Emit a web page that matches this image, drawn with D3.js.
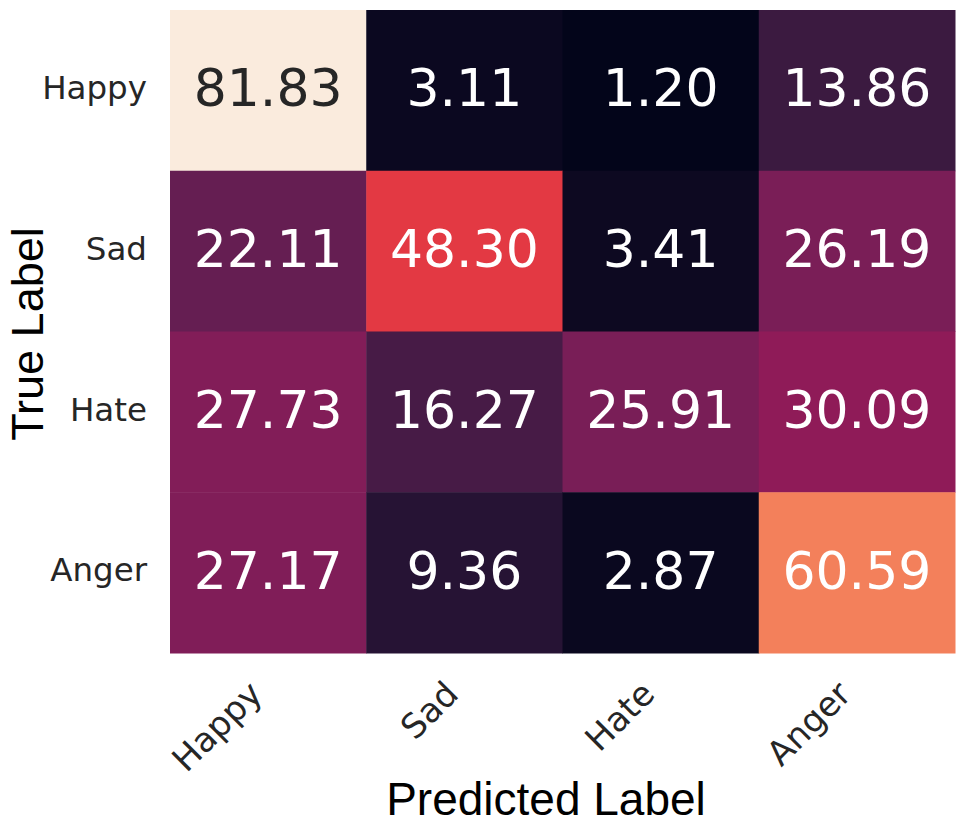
<!DOCTYPE html>
<html>
<head>
<meta charset="utf-8">
<script src="https://cdn.jsdelivr.net/npm/d3@7"></script>
<style>
  body { margin: 0; background: #fff; }
  svg { display: block; }
</style>
</head>
<body>
<svg id="chart" width="970" height="828"></svg>
<script>
// confusion matrix, rows = true label, cols = predicted label
var trueLabels = ["Happy", "Sad", "Hate", "Anger"];
var predLabels = ["Happy", "Sad", "Hate", "Anger"];
var happyRow = [81.83, 3.11, 1.20, 13.86];
var sadRow   = [22.11, 48.30, 3.41, 26.19];
var hateRow  = [27.73, 16.27, 25.91, 30.09];
var angerRow = [27.17, 9.36, 2.87, 60.59];
var rows = [happyRow, sadRow, hateRow, angerRow];

// seaborn "rocket" colormap stops
var rocketStops = ["#03051a", "#35193e", "#701f57", "#ad1759", "#e13342", "#f37651", "#f6b48f", "#faebdd"];

var svg = d3.select("#chart");

var cells = [];
rows.forEach(function(r, i){
    r.forEach(function(v, j){
	cells.push({ t: trueLabels[i], p: predLabels[j], v: v });
    });
});

var x = d3.scaleBand().domain(predLabels).range([170, 955]);
var y = d3.scaleBand().domain(trueLabels).range([10, 653]);

var vmin = d3.min(cells, function(d){ return d.v; });
var vmax = d3.max(cells, function(d){ return d.v; });
var rocket = d3.scaleLinear()
    .domain(d3.range(rocketStops.length).map(function(i){ return vmin + (vmax - vmin) * i / (rocketStops.length - 1); }))
    .range(rocketStops)
    .interpolate(d3.interpolateRgb);

function luminance(c){
    var rgb = d3.rgb(c);
    var lin = [rgb.r, rgb.g, rgb.b].map(function(u){
	u = u / 255;
	return u <= 0.03928 ? u / 12.92 : Math.pow((u + 0.055) / 1.055, 2.4);
    });
    return 0.2126 * lin[0] + 0.7152 * lin[1] + 0.0722 * lin[2];
}

var g = svg.append("g");

g.selectAll("rect")
    .data(cells)
    .enter().append("rect")
    .attr("x", function(d){ return x(d.p); })
    .attr("y", function(d){ return y(d.t); })
    .attr("width", x.bandwidth() + 0.5)
    .attr("height", y.bandwidth() + 0.5)
    .attr("fill", function(d){ return rocket(d.v); });

g.selectAll("text.annot")
    .data(cells)
    .enter().append("text")
    .attr("class", "annot")
    .attr("x", function(d){ return x(d.p) + x.bandwidth() / 2; })
    .attr("y", function(d){ return y(d.t) + y.bandwidth() / 2 + 16; })
    .attr("text-anchor", "middle")
    .attr("font-family", "DejaVu Sans")
    .attr("font-size", 52)
    .attr("fill", function(d){ return luminance(rocket(d.v)) > 0.408 ? "#262626" : "#ffffff"; })
    .text(function(d){ return d.v.toFixed(2); });

// y axis
var yAxis = svg.append("g")
    .attr("transform", "translate(170,0)")
    .call(d3.axisLeft(y).tickSize(0).tickPadding(23));
yAxis.select(".domain").remove();
yAxis.selectAll("text")
    .attr("font-family", "DejaVu Sans")
    .attr("font-size", 32.5)
    .attr("fill", "#262626")
    .attr("dy", "0.27em");

// x axis, rotated labels
var xAxis = svg.append("g")
    .attr("transform", "translate(0,653)")
    .call(d3.axisBottom(x).tickSize(0));
xAxis.select(".domain").remove();
xAxis.selectAll("text")
    .attr("font-family", "DejaVu Sans")
    .attr("font-size", 34)
    .attr("fill", "#262626")
    .attr("text-anchor", "end")
    .attr("x", -4)
    .attr("y", 43)
    .attr("dy", 0)
    .attr("transform", "rotate(-45,-4,43)");

// axis titles
svg.append("text")
    .attr("transform", "translate(43,334) rotate(-90)")
    .attr("text-anchor", "middle")
    .attr("font-family", "Liberation Sans")
    .attr("font-size", 45)
    .attr("fill", "#000")
    .text("True Label");

svg.append("text")
    .attr("x", 546)
    .attr("y", 815)
    .attr("text-anchor", "middle")
    .attr("font-family", "Liberation Sans")
    .attr("font-size", 46)
    .attr("fill", "#000")
    .text("Predicted Label");
</script>
</body>
</html>
